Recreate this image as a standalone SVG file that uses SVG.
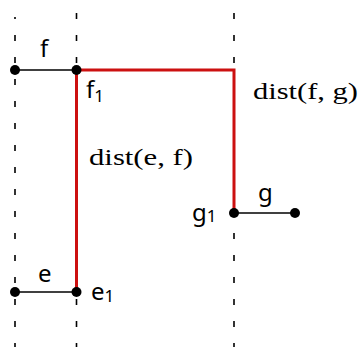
<svg xmlns="http://www.w3.org/2000/svg" width="364" height="347" viewBox="0 0 364 347">
<style>
.guide{stroke:#000;stroke-width:1.6;stroke-dasharray:6 16;fill:none}
.seg{stroke:#000;stroke-width:1.3;fill:none}
.red{stroke:#cc1010;stroke-width:3;fill:none;stroke-linejoin:miter}
.dot{fill:#000}
.lbl{font-family:"Noto Sans","DejaVu Sans",sans-serif;font-size:24px;fill:#000}
.sub{font-size:17px}
.math{font-family:"Liberation Serif","DejaVu Serif",serif;font-size:24px;fill:#000}
</style>
<rect width="364" height="347" fill="#fff"/>
<g id="guides">
<line class="guide" x1="15" y1="17" x2="15" y2="347" stroke-dashoffset="4"/>
<line class="guide" x1="76.5" y1="13" x2="76.5" y2="347"/>
<line class="guide" x1="234" y1="13" x2="234" y2="347"/>
</g>
<g id="connectors">
<line class="seg" x1="15" y1="70" x2="76.5" y2="70"/>
<line class="seg" x1="15" y1="292" x2="76.5" y2="292"/>
<line class="seg" x1="234" y1="213" x2="295" y2="213"/>
<polyline class="red" points="76.5,292 76.5,70 234,70 234,213"/>
</g>
<g id="f"><circle class="dot" cx="15" cy="70" r="5"/><text class="lbl" x="40" y="57">f</text></g>
<g id="f1"><circle class="dot" cx="76.5" cy="70" r="5"/><text class="lbl" x="86" y="98">f<tspan class="sub" dy="4">1</tspan></text></g>
<g id="e"><circle class="dot" cx="15" cy="292" r="5"/><text class="lbl" x="38" y="282">e</text></g>
<g id="e1"><circle class="dot" cx="76.5" cy="292" r="5"/><text class="lbl" x="91" y="300">e<tspan class="sub" dy="2">1</tspan></text></g>
<g id="g1"><circle class="dot" cx="234" cy="213" r="5"/><text class="lbl" x="192" y="221">g<tspan class="sub" dy="1">1</tspan></text></g>
<g id="g"><circle class="dot" cx="295" cy="213" r="5"/><text class="lbl" x="258" y="201">g</text></g>
<g id="dist-fg"><text class="math" x="253" y="99" textLength="105" lengthAdjust="spacingAndGlyphs">dist(f, g)</text></g>
<g id="dist-ef"><text class="math" x="89" y="165" textLength="104" lengthAdjust="spacingAndGlyphs">dist(e, f)</text></g>
</svg>
